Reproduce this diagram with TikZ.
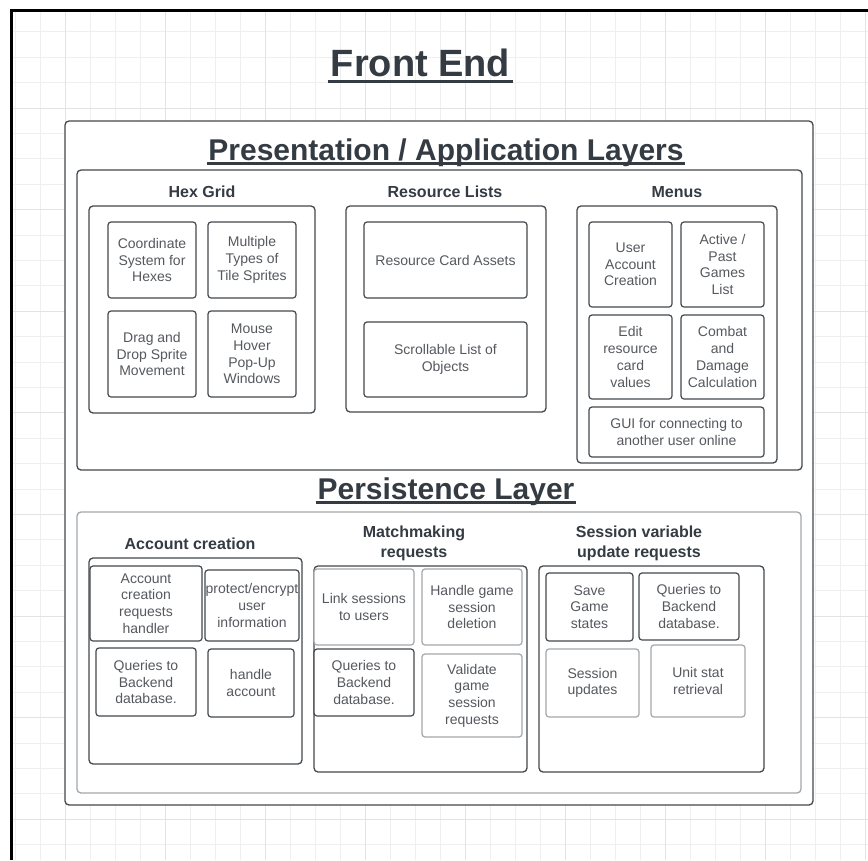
\documentclass[tikz,border=0pt]{standalone}
\usepackage{fontspec}
\setmainfont{Liberation Sans}
\definecolor{boxc}{HTML}{45494E}
\definecolor{lightc}{HTML}{A3A6AA}
\definecolor{txtc}{HTML}{55595E}
\definecolor{titc}{HTML}{343B43}
\definecolor{gridminor}{HTML}{EFEFEF}
\definecolor{gridmajor}{HTML}{E3E3E3}
\tikzset{
  box/.style={draw=boxc, line width=1.2pt, rounded corners=3pt, fill=white, align=center,
    font=\fontsize{14}{16.7}\selectfont, text=txtc, inner sep=0pt},
  lbox/.style={box, draw=lightc},
  frame/.style={draw=boxc, line width=1.3pt, rounded corners=4pt, fill=white},
  lframe/.style={frame, draw=lightc},
  sub/.style={font=\bfseries\fontsize{16}{20}\selectfont, text=titc, align=center, inner sep=0pt},
  ttl/.style={font=\bfseries\fontsize{30}{36}\selectfont, text=titc, inner sep=0pt, anchor=base},
  uline/.style={draw=titc, line width=3.2pt},
}
\newcommand{\bx}[7]{% style, name, x1, x2, y1, y2, text
  \node[#1, minimum width=#4-#3, minimum height=#6-#5] (#2) at ({(#3+#4)/2},{(#5+#6)/2}) {#7};}
\begin{document}
\begin{tikzpicture}[x=1pt,y=-1pt]
\useasboundingbox (0,0) rectangle (868,860);
\fill[white] (0,0) rectangle (868,860);
% grid
\begin{scope}
\clip (12,10) rectangle (868,860);
\foreach \i in {0,...,34} {\draw[gridminor, line width=0.9pt] ({15+25*\i},10) -- ({15+25*\i},860);}
\foreach \i in {0,...,34} {\draw[gridminor, line width=0.9pt] (12,{6.5+25.4*\i}) -- (868,{6.5+25.4*\i});}
\foreach \i in {0,...,8} {\draw[gridmajor, line width=1pt] ({65+100*\i},10) -- ({65+100*\i},860);}
\foreach \i in {0,...,8} {\draw[gridmajor, line width=1pt] (12,{6.5+101.6*\i}) -- (868,{6.5+101.6*\i});}
\end{scope}
\draw[black, line width=2.2pt] (11.5,860) -- (11.5,10.5) -- (868,10.5);

% Title
\node[ttl, font=\bfseries\fontsize{38}{44}\selectfont] (fe) at (420.5,76.7) {Front End};
\draw[uline] ([xshift=-3pt,yshift=-5pt]fe.base west) -- ([xshift=3pt,yshift=-5pt]fe.base east);

% Outer frame
\bx{frame}{outer}{65}{813}{121}{805}{}

% Presentation
\node[ttl] (pt) at (446,160) {Presentation / Application Layers};
\draw[uline] ([xshift=-1.5pt,yshift=-3.5pt]pt.base west) -- ([xshift=1.5pt,yshift=-3.5pt]pt.base east);
\bx{frame}{pres}{77}{802}{170}{470}{}

\node[sub] (hext) at (202,192) {Hex Grid};
\bx{frame}{hex}{89}{315}{206}{413}{}
\bx{box}{coord}{108}{196}{222}{298}{Coordinate\\System for\\Hexes}
\bx{box}{multi}{208}{296}{222}{298}{Multiple\\Types of\\Tile Sprites}
\bx{box}{drag}{108}{196}{311}{397}{Drag and\\Drop Sprite\\Movement}
\bx{box}{mouse}{208}{296}{311}{397}{Mouse\\Hover\\Pop-Up\\Windows}

\node[sub] (rest) at (445,192) {Resource Lists};
\bx{frame}{res}{346}{546}{206}{412}{}
\bx{box}{rca}{364}{527}{222}{298}{Resource Card Assets}
\bx{box}{scroll}{364}{527}{322}{397}{Scrollable List of\\Objects}

\node[sub] (ment) at (677,192) {Menus};
\bx{frame}{menus}{577}{777}{206}{463}{}
\bx{box}{user}{589}{672}{222}{307}{User\\Account\\Creation}
\bx{box}{active}{681}{764}{222}{307}{Active /\\Past\\Games\\List}
\bx{box}{edit}{589}{672}{315}{399}{Edit\\resource\\card\\values}
\bx{box}{combat}{681}{764}{315}{399}{Combat\\and\\Damage\\Calculation}
\bx{box}{gui}{589}{764}{407}{457}{GUI for connecting to\\another user online}

% Persistence
\node[ttl] (plt) at (446,499) {Persistence Layer};
\draw[uline] ([xshift=-1.5pt,yshift=-3.5pt]plt.base west) -- ([xshift=1.5pt,yshift=-3.5pt]plt.base east);
\bx{lframe}{pers}{77}{801}{512}{793}{}

\node[sub] (acct) at (190,544) {Account creation};
\bx{frame}{acc}{89}{302}{558}{764}{}
\bx{box}{acrh}{90}{202}{566}{641}{Account\\creation\\requests\\handler}
\bx{box}{prot}{205}{299}{570}{641}{protect/encrypt\\user\\information}
\bx{box}{qa}{96}{196}{648}{716}{Queries to\\Backend\\database.}
\bx{box}{hacc}{208}{294}{649}{717}{handle\\account}

\node[sub] (matt) at (414,543) {Matchmaking\\requests};
\bx{frame}{match}{314}{527}{566}{772}{}
\bx{lbox}{link}{314}{414}{569}{645}{Link sessions\\to users}
\bx{lbox}{hgs}{422}{522}{569}{645}{Handle game\\session\\deletion}
\bx{box}{qm}{314}{414}{649}{716}{Queries to\\Backend\\database.}
\bx{lbox}{valid}{422}{522}{654}{737}{Validate\\game\\session\\requests}

\node[sub] (sest) at (639,543) {Session variable\\update requests};
\bx{frame}{sess}{539}{764}{566}{772}{}
\bx{box}{save}{546}{633}{573}{641}{Save\\Game\\states}
\bx{box}{qs}{639}{739}{573}{640}{Queries to\\Backend\\database.}
\bx{lbox}{supd}{546}{639}{649}{717}{Session\\updates}
\bx{lbox}{unit}{651}{745}{645}{717}{Unit stat\\retrieval}
\end{tikzpicture}
\end{document}
